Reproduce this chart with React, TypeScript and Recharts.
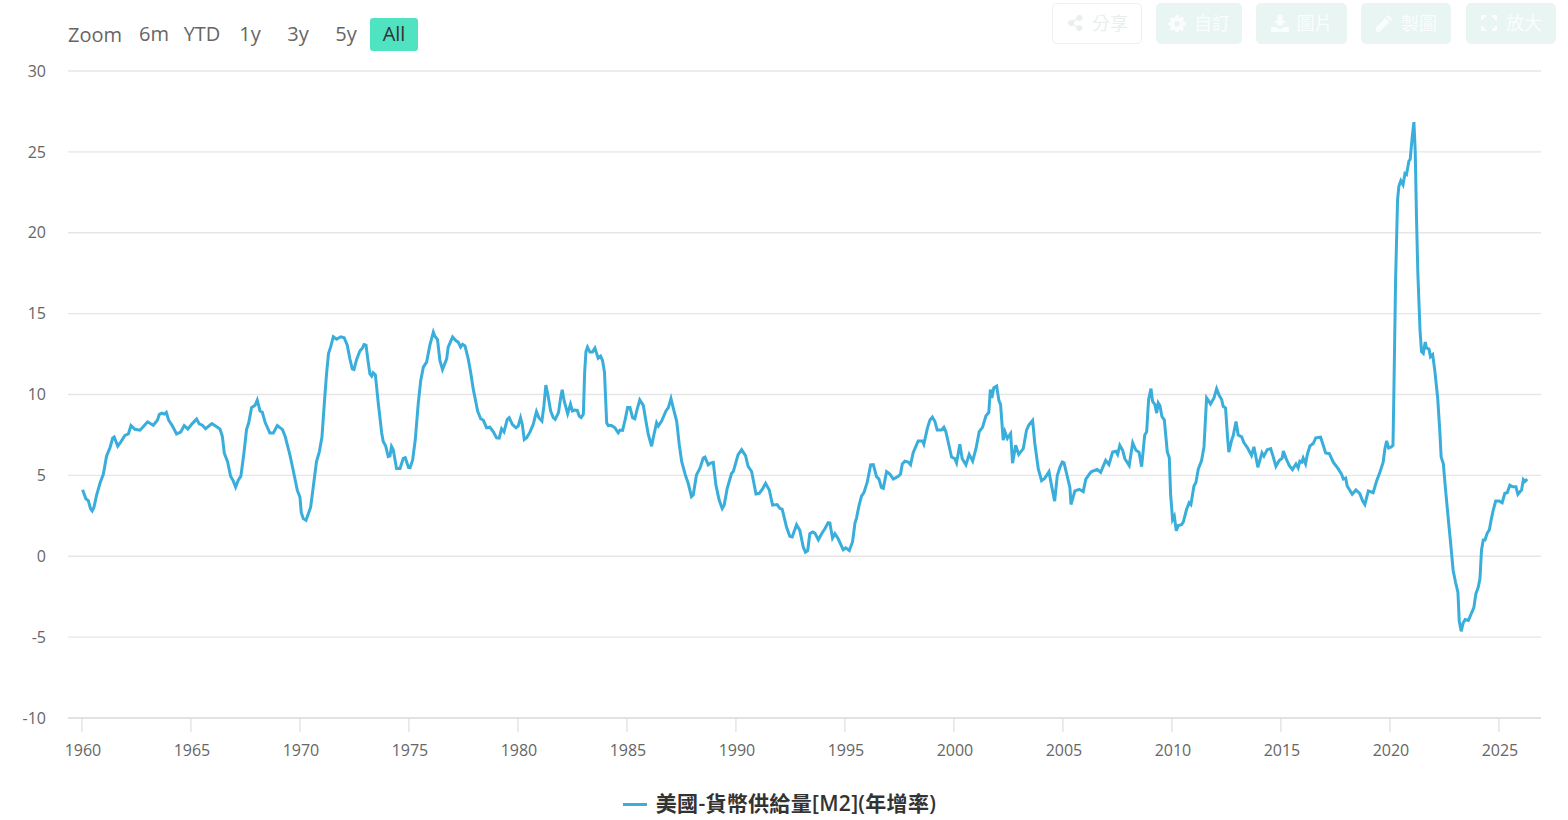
import { LineChart, Line, XAxis, YAxis, CartesianGrid, Legend } from 'recharts';

const SERIES_NAME = '美國-貨幣供給量[M2](年增率)';
const LINE_COLOR = '#3aaedb';
const FONT = '"Open Sans", "Noto Sans CJK TC", sans-serif';

// [decimal year, % yoy]
const m2_1960s: [number, number][] = [
  [1960.03, 4.11], [1960.18, 3.55], [1960.29, 3.44], [1960.4, 2.92], [1960.47, 2.8], [1960.55, 3.03], [1960.67, 3.76], [1960.83, 4.53], [1960.98, 5.07],
  [1961.13, 6.2], [1961.28, 6.68], [1961.41, 7.31], [1961.48, 7.37], [1961.64, 6.81], [1961.8, 7.1], [1961.97, 7.47],
  [1962.13, 7.56], [1962.25, 8.08], [1962.43, 7.85], [1962.66, 7.79], [1962.81, 8.0],
  [1963.01, 8.31], [1963.27, 8.1], [1963.46, 8.41], [1963.55, 8.77], [1963.67, 8.85], [1963.78, 8.79], [1963.87, 8.89], [1963.98, 8.41],
  [1964.14, 8.08], [1964.34, 7.56], [1964.53, 7.68], [1964.69, 8.08], [1964.86, 7.87],
  [1965.06, 8.2], [1965.26, 8.48], [1965.38, 8.18], [1965.52, 8.1], [1965.67, 7.89], [1965.96, 8.2],
  [1966.18, 8.0], [1966.33, 7.87], [1966.44, 7.41], [1966.53, 6.37], [1966.68, 5.85], [1966.82, 4.95], [1966.94, 4.66],
  [1967.05, 4.28], [1967.17, 4.7], [1967.29, 4.95], [1967.43, 6.37], [1967.55, 7.83], [1967.65, 8.25], [1967.78, 9.19], [1967.94, 9.33],
  [1968.04, 9.65], [1968.17, 8.98], [1968.27, 8.91], [1968.41, 8.25], [1968.62, 7.62], [1968.78, 7.62], [1968.96, 8.08],
  [1969.2, 7.83], [1969.33, 7.37], [1969.54, 6.26], [1969.69, 5.32], [1969.88, 4.07],
];

const m2_1970s: [number, number][] = [
  [1970.0, 3.65], [1970.06, 2.71], [1970.15, 2.34], [1970.28, 2.23], [1970.49, 3.03], [1970.61, 4.28], [1970.76, 5.85], [1970.89, 6.47],
  [1971.01, 7.37], [1971.12, 9.5], [1971.22, 11.27], [1971.31, 12.53], [1971.41, 12.94], [1971.53, 13.57], [1971.68, 13.42], [1971.87, 13.57],
  [1972.03, 13.51], [1972.17, 13.05], [1972.29, 12.21], [1972.4, 11.59], [1972.48, 11.55], [1972.6, 12.17], [1972.75, 12.69], [1972.87, 12.88], [1972.94, 13.09],
  [1973.03, 13.05], [1973.13, 12.0], [1973.21, 11.27], [1973.29, 11.13], [1973.36, 11.34], [1973.46, 11.21], [1973.59, 9.5], [1973.75, 7.62], [1973.82, 7.1], [1973.93, 6.83],
  [1974.05, 6.16], [1974.13, 6.2], [1974.2, 6.79], [1974.28, 6.58], [1974.43, 5.43], [1974.59, 5.43], [1974.74, 6.05], [1974.83, 6.09], [1974.98, 5.49],
  [1975.05, 5.47], [1975.17, 5.95], [1975.29, 7.2], [1975.43, 9.5], [1975.54, 10.86], [1975.66, 11.69], [1975.81, 12.0], [1975.96, 13.05],
  [1976.12, 13.85], [1976.19, 13.6], [1976.31, 13.4], [1976.42, 12.11], [1976.54, 11.54], [1976.73, 12.2], [1976.8, 12.93],
  [1977.0, 13.55], [1977.15, 13.33], [1977.26, 13.24], [1977.37, 12.93], [1977.46, 13.1], [1977.57, 13.0], [1977.72, 12.2], [1977.83, 11.37], [1977.95, 10.33],
  [1978.06, 9.6], [1978.15, 8.98], [1978.29, 8.5], [1978.41, 8.42], [1978.56, 7.94], [1978.71, 7.98], [1978.87, 7.69],
  [1979.02, 7.32], [1979.14, 7.3], [1979.25, 7.88], [1979.36, 7.69], [1979.51, 8.46], [1979.6, 8.57], [1979.74, 8.15], [1979.91, 7.94],
];

const m2_1980s: [number, number][] = [
  [1980.01, 8.05], [1980.12, 8.57], [1980.2, 8.15], [1980.29, 7.21], [1980.4, 7.32], [1980.55, 7.67], [1980.7, 8.15], [1980.85, 8.94], [1980.96, 8.57],
  [1981.1, 8.36], [1981.19, 9.29], [1981.28, 10.58], [1981.37, 10.02], [1981.5, 8.98], [1981.62, 8.57], [1981.71, 8.46], [1981.86, 8.88], [1981.96, 9.81],
  [1982.03, 10.29], [1982.12, 9.6], [1982.28, 8.81], [1982.41, 9.4], [1982.5, 8.98], [1982.61, 9.04], [1982.72, 9.02], [1982.81, 8.67], [1982.9, 8.57],
  [1983.0, 8.77], [1983.06, 11.37], [1983.12, 12.66], [1983.19, 12.93], [1983.3, 12.62], [1983.42, 12.62], [1983.53, 12.87], [1983.68, 12.25], [1983.79, 12.37], [1983.88, 12.1], [1983.97, 11.37],
  [1984.07, 8.25], [1984.14, 8.09], [1984.29, 8.09], [1984.45, 7.94], [1984.6, 7.63], [1984.68, 7.8], [1984.8, 7.78], [1984.92, 8.46],
  [1985.03, 9.19], [1985.14, 9.19], [1985.26, 8.57], [1985.36, 8.5], [1985.47, 9.09], [1985.59, 9.67], [1985.75, 9.33], [1985.87, 8.36], [1985.98, 7.53],
  [1986.13, 6.8], [1986.24, 7.53], [1986.36, 8.25], [1986.44, 8.05], [1986.59, 8.36], [1986.79, 8.98], [1986.9, 9.19],
  [1987.02, 9.75], [1987.12, 9.19], [1987.28, 8.36], [1987.4, 6.9], [1987.51, 5.86], [1987.69, 4.97], [1987.81, 4.51], [1987.96, 3.68],
  [1988.04, 3.78], [1988.19, 5.03], [1988.35, 5.45], [1988.5, 6.07], [1988.58, 6.13], [1988.73, 5.65], [1988.84, 5.76], [1988.96, 5.8],
  [1989.08, 4.41], [1989.23, 3.47], [1989.37, 2.95], [1989.46, 3.16], [1989.6, 4.2], [1989.8, 5.13], [1989.88, 5.24],
];

const m2_1990s: [number, number][] = [
  [1990.1, 6.28], [1990.26, 6.59], [1990.44, 6.22], [1990.56, 5.55], [1990.72, 5.24], [1990.92, 3.85],
  [1991.07, 3.89], [1991.22, 4.16], [1991.36, 4.51], [1991.53, 4.1], [1991.68, 3.16], [1991.89, 3.2],
  [1992.02, 2.95], [1992.12, 2.91], [1992.32, 1.81], [1992.47, 1.23], [1992.58, 1.19], [1992.78, 1.95], [1992.93, 1.6],
  [1993.09, 0.56], [1993.19, 0.25], [1993.29, 0.35], [1993.39, 1.39], [1993.52, 1.5], [1993.62, 1.43], [1993.78, 1.02], [1993.93, 1.39],
  [1994.08, 1.7], [1994.23, 2.08], [1994.31, 2.06], [1994.43, 1.12], [1994.54, 1.39], [1994.69, 1.08], [1994.92, 0.4],
  [1995.04, 0.52], [1995.2, 0.35], [1995.35, 0.9], [1995.46, 2.05], [1995.53, 2.36], [1995.64, 3.1], [1995.76, 3.72], [1995.87, 3.93],
  [1996.02, 4.56], [1996.18, 5.65], [1996.3, 5.67], [1996.45, 4.92], [1996.56, 4.77], [1996.67, 4.25], [1996.76, 4.2], [1996.91, 5.23],
  [1997.06, 5.08], [1997.22, 4.77], [1997.45, 4.94], [1997.55, 5.08], [1997.63, 5.71], [1997.75, 5.88], [1997.9, 5.82],
  [1998.01, 5.65], [1998.13, 6.4], [1998.36, 7.13], [1998.55, 7.13], [1998.62, 6.92], [1998.78, 7.91], [1998.9, 8.43],
  [1999.01, 8.6], [1999.13, 8.33], [1999.23, 7.8], [1999.43, 7.8], [1999.54, 7.97], [1999.63, 7.7], [1999.77, 6.86], [1999.89, 6.13],
];

const m2_2000s: [number, number][] = [
  [2000.04, 6.03], [2000.12, 5.77], [2000.27, 6.92], [2000.38, 6.03], [2000.55, 5.65], [2000.7, 6.3], [2000.86, 5.88],
  [2001.01, 6.65], [2001.16, 7.7], [2001.31, 7.97], [2001.47, 8.68], [2001.6, 8.89], [2001.67, 10.31], [2001.74, 9.79], [2001.83, 10.42], [2001.96, 10.52],
  [2002.06, 9.64], [2002.14, 9.37], [2002.26, 7.18], [2002.34, 7.7], [2002.45, 7.28], [2002.6, 7.59], [2002.69, 5.75], [2002.83, 6.86], [2002.97, 6.3],
  [2003.18, 6.65], [2003.33, 7.8], [2003.44, 8.12], [2003.61, 8.39], [2003.71, 6.97], [2003.87, 5.4],
  [2004.02, 4.67], [2004.17, 4.83], [2004.36, 5.23], [2004.48, 4.35], [2004.62, 3.41], [2004.74, 4.98], [2004.86, 5.5], [2004.97, 5.82],
  [2005.05, 5.77], [2005.32, 4.25], [2005.37, 3.2], [2005.55, 4.04], [2005.75, 4.14], [2005.93, 4.0],
  [2006.05, 4.77], [2006.24, 5.13], [2006.31, 5.23], [2006.57, 5.36], [2006.73, 5.19], [2006.96, 5.92],
  [2007.11, 5.67], [2007.28, 6.44], [2007.43, 6.49], [2007.51, 6.3], [2007.61, 6.86], [2007.74, 6.55], [2007.84, 6.03],
  [2008.04, 5.61], [2008.2, 7.01], [2008.35, 6.55], [2008.49, 6.44], [2008.61, 5.54], [2008.75, 7.49], [2008.84, 7.7], [2008.93, 9.69],
  [2009.04, 10.36], [2009.11, 9.58], [2009.22, 9.37], [2009.3, 8.85], [2009.37, 9.48], [2009.45, 9.31], [2009.54, 8.64], [2009.65, 8.43], [2009.79, 6.44], [2009.88, 6.09], [2009.94, 3.83],
];

const m2_2010s: [number, number][] = [
  [2010.03, 2.26], [2010.11, 2.47], [2010.2, 1.57], [2010.29, 1.9], [2010.44, 1.95], [2010.52, 2.11], [2010.67, 2.89], [2010.79, 3.31], [2010.87, 3.2],
  [2011.01, 4.35], [2011.1, 4.56], [2011.21, 5.4], [2011.36, 5.92], [2011.47, 6.76], [2011.59, 9.79], [2011.67, 9.64], [2011.77, 9.41], [2011.93, 9.79],
  [2012.05, 10.36], [2012.17, 9.94], [2012.28, 9.69], [2012.35, 9.27], [2012.46, 9.16], [2012.55, 7.38], [2012.61, 6.44], [2012.74, 7.18], [2012.81, 7.45], [2012.94, 8.33],
  [2013.04, 7.49], [2013.2, 7.38], [2013.3, 7.03], [2013.46, 6.72], [2013.65, 6.23], [2013.76, 6.76], [2013.84, 6.23], [2013.94, 5.5],
  [2014.13, 6.4], [2014.22, 6.19], [2014.37, 6.59], [2014.53, 6.65], [2014.65, 6.13], [2014.77, 5.56], [2014.92, 5.92],
  [2015.06, 6.07], [2015.11, 6.51], [2015.23, 6.07], [2015.38, 5.61], [2015.53, 5.36], [2015.69, 5.71], [2015.79, 5.46], [2015.87, 5.88], [2015.96, 5.82],
  [2016.02, 6.07], [2016.13, 5.71], [2016.22, 6.34], [2016.33, 6.82], [2016.48, 6.97], [2016.6, 7.32], [2016.82, 7.36], [2016.94, 6.86],
  [2017.05, 6.38], [2017.22, 6.34], [2017.4, 5.82], [2017.63, 5.4], [2017.78, 5.08], [2017.86, 4.77], [2017.97, 4.83],
  [2018.04, 4.35], [2018.13, 4.14], [2018.27, 3.83], [2018.44, 4.1], [2018.62, 3.87], [2018.75, 3.41], [2018.85, 3.2],
  [2019.01, 4.04], [2019.23, 3.93], [2019.39, 4.66], [2019.54, 5.19], [2019.69, 5.82], [2019.77, 6.65], [2019.85, 7.13], [2019.94, 6.69],
];

const m2_2020s: [number, number][] = [
  [2020.06, 6.76], [2020.14, 6.86], [2020.18, 10.0], [2020.26, 17.11], [2020.35, 22.03], [2020.41, 22.87], [2020.5, 23.22], [2020.6, 22.97], [2020.69, 23.66], [2020.76, 23.6], [2020.87, 24.43], [2020.93, 24.54],
  [2021.02, 25.9], [2021.1, 26.84], [2021.16, 25.06], [2021.22, 20.88], [2021.28, 17.53], [2021.38, 13.97], [2021.45, 12.66], [2021.53, 12.55], [2021.62, 13.24], [2021.68, 12.87], [2021.79, 12.82], [2021.86, 12.34], [2021.96, 12.47],
  [2022.06, 11.46], [2022.19, 9.79], [2022.29, 7.7], [2022.35, 6.13], [2022.45, 5.71], [2022.55, 4.14], [2022.68, 2.26], [2022.8, 0.59], [2022.9, -0.88],
  [2023.01, -1.61], [2023.12, -2.24], [2023.18, -4.02], [2023.27, -4.64], [2023.36, -4.12], [2023.45, -3.91], [2023.6, -3.97], [2023.75, -3.49], [2023.85, -3.18], [2023.94, -2.34],
  [2024.05, -1.92], [2024.13, -1.4], [2024.2, 0.38], [2024.28, 1.0], [2024.36, 1.0], [2024.46, 1.42], [2024.56, 1.63], [2024.66, 2.36], [2024.74, 2.85], [2024.85, 3.41],
  [2025.01, 3.41], [2025.15, 3.31], [2025.27, 3.89], [2025.38, 3.93], [2025.5, 4.39], [2025.63, 4.29], [2025.78, 4.29], [2025.87, 3.83],
  [2026.04, 4.1], [2026.12, 4.73], [2026.19, 4.62], [2026.3, 4.77],
];

const xTicks = [1960, 1965, 1970, 1975, 1980, 1985, 1990, 1995, 2000, 2005, 2010, 2015, 2020, 2025];
const yTicks = [-10, -5, 0, 5, 10, 15, 20, 25, 30];
const rangeLabels = ['6m', 'YTD', '1y', '3y', '5y', 'All'];

const chartData = [...m2_1960s, ...m2_1970s, ...m2_1980s, ...m2_1990s, ...m2_2000s, ...m2_2010s, ...m2_2020s]
  .map(([year, value]) => ({ year, value }));

const icons: Record<string, string> = {
  share: 'M13.500 1a3 3 0 1 1-2.400 4.800L7.800 7.700a3 3 0 0 1 0 2.600l3.300 1.900a3 3 0 1 1-.7 1.400l-3.600-2.100a3 3 0 1 1 0-5l3.600-2.100A3 3 0 0 1 13.500 1z',
  gear: 'M7.500 1h3l.4 2.100 1.400.6 1.800-1.200 2.100 2.100-1.200 1.800.6 1.400 2.100.4v3l-2.100.4-.6 1.400 1.200 1.800-2.100 2.100-1.800-1.200-1.400.6-.4 2.100h-3l-.4-2.100-1.400-.6-1.800 1.200-2.100-2.100 1.200-1.800-.6-1.400L.3 11.600v-3l2.100-.4.600-1.400-1.200-1.800 2.100-2.100 1.800 1.200 1.400-.6zM9 7.300a2.700 2.700 0 1 0 0 5.400 2.700 2.700 0 0 0 0-5.400z',
  download: 'M6.500 1h5v6h3.500L9 12.500 3 7h3.500zM0 13h5l2 2h4l2-2h5v5H0z',
  pencil: 'M13 1l4 4-1.800 1.800-4-4zM10 4l4 4-9 9.500H1v-4z',
  expand: 'M1 1h5v2.500H3.500V6H1zM12 1h5v5h-2.500V3.500H12zM1 12h2.500v2.500H6V17H1zM14.500 12H17v5h-5v-2.500h2.500z',
};

const toolButtons = [
  { label: '分享', icon: 'share', left: 1052, width: 90, outlined: true },
  { label: '自訂', icon: 'gear', left: 1156, width: 86, outlined: false },
  { label: '圖片', icon: 'download', left: 1256, width: 91, outlined: false },
  { label: '製圖', icon: 'pencil', left: 1361, width: 90, outlined: false },
  { label: '放大', icon: 'expand', left: 1466, width: 90, outlined: false },
];

function RangeSelector() {
  return (
    <div style={{ position: 'absolute', left: 68, top: 18, height: 33, display: 'flex', alignItems: 'center', fontFamily: FONT, fontSize: 20, color: '#666', zIndex: 2 }}>
      <span style={{ width: 62 }}>Zoom</span>
      {rangeLabels.map((r) => (
        <span
          key={r}
          style={{
            width: 48, height: 33, lineHeight: '32px', textAlign: 'center', borderRadius: 3,
            background: r === 'All' ? '#50e3c2' : 'transparent',
            color: r === 'All' ? '#333' : '#666',
          }}
        >
          {r}
        </span>
      ))}
    </div>
  );
}

function ToolButtons() {
  return (
    <>
      {toolButtons.map((b) => {
        const fg = b.outlined ? '#e9eeee' : '#fbfdfd';
        return (
          <div
            key={b.label}
            style={{
              position: 'absolute', left: b.left, top: 3, width: b.width, height: 41, boxSizing: 'border-box',
              borderRadius: 5, background: b.outlined ? '#fff' : '#e8f5f3',
              border: b.outlined ? '1px solid #eef0f0' : 'none',
              display: 'flex', alignItems: 'center', justifyContent: 'center', gap: 8,
              fontFamily: FONT, fontSize: 18, color: fg, zIndex: 2,
            }}
          >
            <svg width="18" height="18" viewBox="0 0 18 18" style={{ marginTop: -1 }}><path d={icons[b.icon]} fill={fg} fillRule="evenodd" /></svg>
            <span style={{ lineHeight: '18px', marginTop: -2 }}>{b.label}</span>
          </div>
        );
      })}
    </>
  );
}

function LegendRow() {
  return (
    <div style={{ display: 'flex', alignItems: 'center', justifyContent: 'center', height: 30, marginTop: -1, marginLeft: 18, fontFamily: FONT, fontSize: 21, letterSpacing: 0.3, fontWeight: 600, color: '#333' }}>
      <span style={{ width: 24, height: 3, background: LINE_COLOR, marginRight: 9, marginTop: 1 }} />
      <span style={{ lineHeight: '30px', marginTop: -2 }}>{SERIES_NAME}</span>
    </div>
  );
}

export default function App() {
  return (
    <div style={{ position: 'absolute', left: 0, top: 0, width: 1568, height: 820, background: '#fff', overflow: 'hidden' }}>
      <RangeSelector />
      <ToolButtons />
      <LineChart width={1568} height={820} data={chartData} margin={{ top: 71, right: 27, bottom: 0, left: 0 }}>
        <CartesianGrid horizontal vertical={false} stroke="#e6e6e6" strokeWidth={1.4} />
        <XAxis
          dataKey="year"
          type="number"
          domain={[1959.36, 2026.93]}
          ticks={xTicks}
          interval={0}
          height={72}
          allowDataOverflow
          stroke="#d8d8d8"
          tickSize={14}
          tickMargin={13}
          tick={{ fontSize: 16, fill: '#666', fontFamily: FONT, dx: 1 }}
        />
        <YAxis
          type="number"
          domain={[-10, 30]}
          ticks={yTicks}
          interval={0}
          width={68}
          axisLine={false}
          tickLine={false}
          tickMargin={16}
          tick={{ fontSize: 16, fill: '#666', fontFamily: FONT }}
        />
        <Legend verticalAlign="bottom" height={30} content={() => <LegendRow />} />
        <Line
          dataKey="value"
          name={SERIES_NAME}
          type="linear"
          stroke={LINE_COLOR}
          strokeWidth={3}
          dot={false}
          isAnimationActive={false}
        />
      </LineChart>
    </div>
  );
}
